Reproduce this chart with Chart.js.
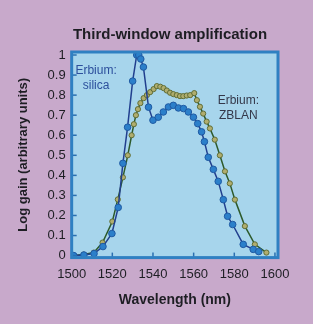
<!DOCTYPE html>
<html>
<head>
<meta charset="utf-8">
<script src="https://cdn.jsdelivr.net/npm/chart.js@4.4.0/dist/chart.umd.min.js"></script>
<style>
  html, body { margin: 0; padding: 0; background: #c8a9cb; }
  #wrap { width: 313px; height: 324px; }
</style>
</head>
<body>
<div id="wrap"><canvas id="mychart" width="313" height="324"></canvas></div>
<script>
// wavelengths (nm) and gain
const silicaWl  = [1501.0, 1506.0, 1511.0, 1515.4, 1519.8, 1522.9, 1525.2, 1527.5, 1530.0, 1532.0, 1533.0, 1534.0, 1535.3, 1537.8, 1540.0, 1542.6, 1545.1, 1547.6, 1550.0, 1552.5, 1555.0, 1557.4, 1559.9, 1562.0, 1563.9, 1565.3, 1567.2, 1569.7, 1572.1, 1574.6, 1576.7, 1579.2, 1584.4, 1589.3, 1592.0];
const silicaVal = [0, 0.003, 0.01, 0.045, 0.11, 0.24, 0.46, 0.64, 0.87, 1.0, 1.0, 0.98, 0.94, 0.74, 0.675, 0.69, 0.716, 0.741, 0.749, 0.736, 0.733, 0.716, 0.69, 0.658, 0.617, 0.568, 0.49, 0.43, 0.37, 0.279, 0.196, 0.155, 0.056, 0.031, 0.02];

const zblanWl  = [1501.0, 1505.9, 1510.9, 1515.2, 1520.0, 1522.7, 1525.2, 1527.6, 1529.5, 1530.6, 1531.6, 1532.6, 1533.8, 1535.4, 1537.0, 1538.6, 1540.3, 1541.9, 1543.6, 1545.2, 1546.8, 1548.4, 1550.0, 1551.7, 1553.3, 1554.9, 1556.6, 1558.3, 1560.3, 1561.6, 1563.1, 1564.7, 1566.4, 1568.0, 1570.4, 1572.9, 1575.4, 1577.8, 1580.3, 1585.2, 1590.1, 1595.8];
const zblanVal = [0, 0.005, 0.015, 0.065, 0.17, 0.28, 0.39, 0.5, 0.6, 0.655, 0.7, 0.73, 0.76, 0.785, 0.8, 0.815, 0.83, 0.845, 0.842, 0.835, 0.823, 0.812, 0.805, 0.8, 0.795, 0.795, 0.798, 0.8, 0.81, 0.775, 0.742, 0.708, 0.668, 0.634, 0.578, 0.5, 0.42, 0.36, 0.279, 0.147, 0.056, 0.015];

const xTicks = [1500, 1520, 1540, 1560, 1580, 1600];
const yTicks = [0, 0.1, 0.2, 0.3, 0.4, 0.5, 0.6, 0.7, 0.8, 0.9, 1];

const chartTitle = 'Third-window amplification';

const labels = [
    { lines: ['Erbium:', 'silica'], x: 1512, y: 0.92, color: '#2c4f9c' },
    { lines: ['Erbium:', 'ZBLAN'], x: 1582, y: 0.77, color: '#34384a' }
];

const FONT = '"Liberation Sans", Arial, sans-serif';

function toPoints(xs, ys){
    return xs.map((x, i) => ({ x: x, y: ys[i] }))
}

const frame = {
    id: 'frame',
    beforeDraw(chart){
        const c = chart.ctx, a = chart.chartArea
        c.save()
        c.fillStyle = '#c8a9cb'
        c.fillRect(0, 0, chart.width, chart.height)
        c.fillStyle = '#a7d5ec'
        c.fillRect(a.left, a.top, a.right - a.left, a.bottom - a.top)
        // title sits a bit right of centre in the original
        c.fillStyle = '#1e1e24'
        c.font = 'bold 15px ' + FONT
        c.textAlign = 'center'
        c.textBaseline = 'middle'
        c.fillText(chartTitle, 170, 35)
        c.restore()
    },
    afterDatasetsDraw(chart){
        const c = chart.ctx, a = chart.chartArea
        const xs = chart.scales.x, ys = chart.scales.y
        c.save()
        // little ticks pointing into the plot
        c.strokeStyle = '#2a6fb0'
        c.lineWidth = 1.5
        yTicks.forEach(v => {
            const py = ys.getPixelForValue(v)
            c.beginPath(); c.moveTo(a.left, py); c.lineTo(a.left + 5, py); c.stroke()
        })
        xTicks.forEach(v => {
            const px = xs.getPixelForValue(v)
            c.beginPath(); c.moveTo(px, a.bottom); c.lineTo(px, a.bottom - 5); c.stroke()
        })
        c.strokeStyle = '#2f80c2'
        c.lineWidth = 3
        c.strokeRect(a.left, a.top, a.right - a.left, a.bottom - a.top)
        // series labels
        c.font = '12px ' + FONT
        c.textAlign = 'center'
        c.textBaseline = 'middle'
        labels.forEach(l => {
            c.fillStyle = l.color
            const px = xs.getPixelForValue(l.x)
            const py = ys.getPixelForValue(l.y)
            l.lines.forEach((t, i) => c.fillText(t, px, py + i * 15))
        })
        c.restore()
    }
}

new Chart(document.getElementById('mychart'), {
    type: 'scatter',
    data: {
        datasets: [{
            label: 'Erbium: silica',
            data: toPoints(silicaWl, silicaVal),
            showLine: true,
            borderColor: '#213f8e',
            borderWidth: 1.5,
            pointRadius: 3.3,
            pointBackgroundColor: '#2b7fca',
            pointBorderColor: '#1f5aa3',
            pointBorderWidth: 1
        }, {
            label: 'Erbium: ZBLAN',
            data: toPoints(zblanWl, zblanVal),
            showLine: true,
            borderColor: '#2d5a2c',
            borderWidth: 1.5,
            pointRadius: 2.6,
            pointBackgroundColor: '#b0ad6e',
            pointBorderColor: '#5f6e38',
            pointBorderWidth: 1
        }]
    },
    options: {
        responsive: false,
        animation: false,
        layout: { padding: { top: 52, left: 16, right: 35, bottom: 15 } },
        plugins: {
            legend: { display: false },
            tooltip: { enabled: false },
            title: { display: false }
        },
        scales: {
            x: {
                type: 'linear',
                min: 1500,
                max: 1601.5,
                afterBuildTicks: s => { s.ticks = xTicks.map(v => ({ value: v })) },
                grid: { display: false, drawTicks: false },
                border: { display: false },
                ticks: {
                    color: '#1e1e24',
                    padding: 9,
                    maxRotation: 0,
                    font: { family: FONT, size: 13 },
                    callback: v => String(v)
                },
                title: {
                    display: true,
                    text: 'Wavelength (nm)',
                    color: '#1e1e24',
                    font: { family: FONT, size: 14, weight: 'bold' },
                    padding: { top: 1, bottom: 0 }
                }
            },
            y: {
                min: -0.01,
                max: 1.015,
                afterBuildTicks: s => { s.ticks = yTicks.map(v => ({ value: v })) },
                grid: { display: false, drawTicks: false },
                border: { display: false },
                ticks: {
                    color: '#1e1e24',
                    padding: 6,
                    font: { family: FONT, size: 13 },
                    callback: v => String(Math.round(v * 10) / 10)
                },
                title: {
                    display: true,
                    text: 'Log gain (arbitrary units)',
                    color: '#1e1e24',
                    font: { family: FONT, size: 13, weight: 'bold' },
                    padding: { top: 0, bottom: 10 }
                }
            }
        }
    },
    plugins: [frame]
});
</script>
</body>
</html>
